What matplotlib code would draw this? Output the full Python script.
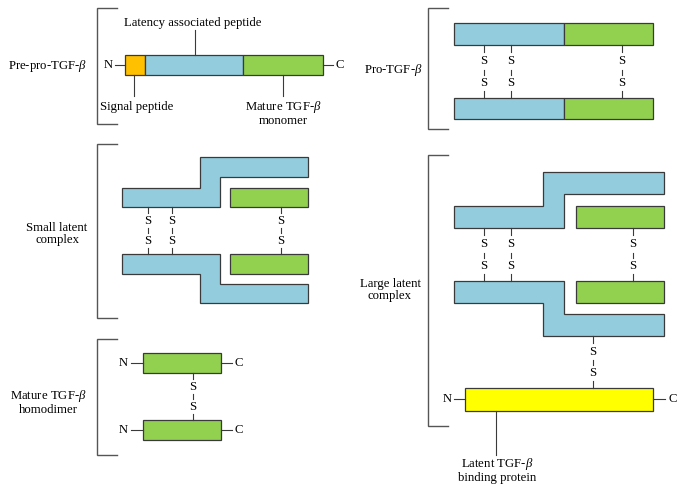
import matplotlib
matplotlib.use("Agg")
import matplotlib.pyplot as plt
from matplotlib.patches import Polygon, Rectangle

plt.rcParams['font.family'] = ['Liberation Serif', 'DejaVu Serif']
plt.rcParams['mathtext.fontset'] = 'custom'
plt.rcParams['mathtext.it'] = 'Liberation Serif:italic'
plt.rcParams['mathtext.rm'] = 'Liberation Serif'

BLUE = '#93CDDD'
GREEN = '#92D050'
ORANGE = '#FFC000'
YELLOW = '#FFFF00'
EDGE = '#3a3a3a'
BR = '#555555'
FS = 9.2

# ---- diagram elements (pixel coordinates) ----
brackets = [  # x, y_top, y_bottom
    (97, 8, 124), (97, 144, 318), (97, 339, 455),
    (428, 8, 129), (428, 155, 426),
]
section_labels = [  # x, y, text
    (48, 66, 'Pre-pro-TGF-$\\beta$'),
    (57, 234, 'Small latent\ncomplex'),
    (48, 402, 'Mature TGF-$\\beta$\nhomodimer'),
    (393, 70, 'Pro-TGF-$\\beta$'),
    (390, 290, 'Large latent\ncomplex'),
]
rects = [  # x0, x1, y0, y1, color
    (125, 145, 55, 75, ORANGE), (145, 243, 55, 75, BLUE), (243, 323, 55, 75, GREEN),
    (230, 308, 188, 207, GREEN), (230, 308, 254, 274, GREEN),
    (143, 221, 353, 373, GREEN), (143, 221, 420, 440, GREEN),
    (454, 564, 23, 45, BLUE), (564, 653, 23, 45, GREEN),
    (454, 564, 98, 119, BLUE), (564, 653, 98, 119, GREEN),
    (576, 664, 206, 228, GREEN), (576, 664, 281, 303, GREEN),
    (465, 653, 388, 411, YELLOW),
]
polys = [
    [(122, 188), (200, 188), (200, 157), (308, 157), (308, 177), (220, 177), (220, 207), (122, 207)],
    [(122, 254), (220, 254), (220, 284), (308, 284), (308, 303), (200, 303), (200, 274), (122, 274)],
    [(454, 206), (543, 206), (543, 172), (664, 172), (664, 194), (564, 194), (564, 228), (454, 228)],
    [(454, 281), (564, 281), (564, 314), (664, 314), (664, 336), (543, 336), (543, 303), (454, 303)],
]
disulfides = [  # x, y_top, y_bottom
    (148, 207, 254), (172, 207, 254), (281, 207, 254),
    (193, 373, 420),
    (484, 45, 98), (511, 45, 98), (622, 45, 98),
    (484, 228, 281), (511, 228, 281), (633, 228, 281),
    (593, 336, 388),
]
termini = [  # x_line0, x_line1, y, letter, text_x
    (115, 125, 65, 'N', 108), (323, 333, 65, 'C', 340),
    (131, 143, 363, 'N', 123), (221, 232, 363, 'C', 239),
    (131, 143, 430, 'N', 123), (221, 232, 430, 'C', 239),
    (454, 465, 399, 'N', 447), (653, 665, 399, 'C', 673),
]
callouts = [  # x, y0, y1, text_x, text_y, text
    (195, 30, 55, 193, 23, 'Latency associated peptide'),
    (134, 75, 96, 137, 107, 'Signal peptide'),
    (283, 75, 96, 283, 113, 'Mature TGF-$\\beta$\nmonomer'),
    (496, 411, 455, 497, 470, 'Latent TGF-$\\beta$\nbinding protein'),
]

fig = plt.figure(figsize=(6.83, 4.94), dpi=100)
ax = fig.add_axes([0, 0, 1, 1])
ax.set_xlim(0, 683)
ax.set_ylim(494, 0)
ax.axis('off')

for x, y0, y1 in brackets:
    ax.plot([x + 20, x, x, x + 20], [y0, y0, y1, y1], color=BR, lw=1.0, solid_joinstyle='miter')

for x, y, t in section_labels:
    ax.text(x, y, t, ha='center', va='center', fontsize=FS, linespacing=0.95)

for x0, x1, y0, y1, c in rects:
    ax.add_patch(Rectangle((x0, y0), x1 - x0, y1 - y0, facecolor=c, edgecolor=EDGE, lw=0.9))

for pts in polys:
    ax.add_patch(Polygon(pts, closed=True, facecolor=BLUE, edgecolor=EDGE, lw=0.9))

for x, yt, yb in disulfides:
    h = yb - yt
    ys1 = yt + h * 0.30
    ys2 = yb - h * 0.28
    ax.plot([x, x], [yt, yt + h * 0.13], color=EDGE, lw=0.8)
    ax.plot([x, x], [yb - h * 0.13, yb], color=EDGE, lw=0.8)
    ax.plot([x, x], [(ys1 + ys2) / 2 - 2.5, (ys1 + ys2) / 2 + 2.5], color=EDGE, lw=0.8)
    ax.text(x, ys1, 'S', ha='center', va='center', fontsize=FS)
    ax.text(x, ys2, 'S', ha='center', va='center', fontsize=FS)

for xa, xb, y, letter, tx in termini:
    ax.plot([xa, xb], [y, y], color=EDGE, lw=0.8)
    ax.text(tx, y, letter, ha='center', va='center', fontsize=FS)

for x, y0, y1, tx, ty, t in callouts:
    ax.plot([x, x], [y0, y1], color=EDGE, lw=0.8)
    ax.text(tx, ty, t, ha='center', va='center', fontsize=FS, linespacing=0.95)

fig.savefig('out.png', dpi=100)
